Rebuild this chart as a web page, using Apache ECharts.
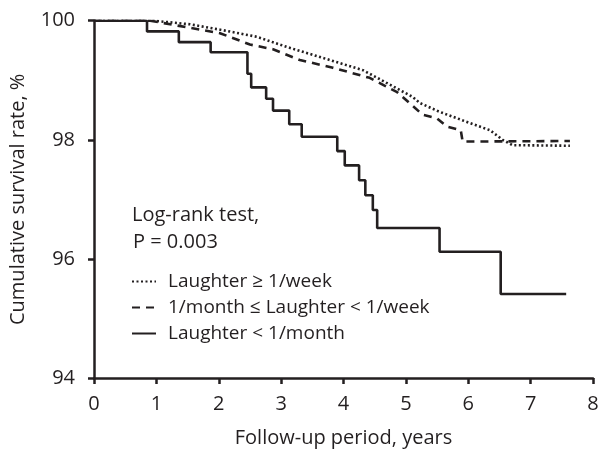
<!DOCTYPE html>
<html>
<head>
<meta charset="utf-8">
<script src="https://cdn.jsdelivr.net/npm/echarts@6/dist/echarts.min.js"></script>
<style>html,body{margin:0;padding:0;background:#fff}#c{width:609px;height:450px}</style>
</head>
<body>
<div id="c"></div>
<script>
// Data (time in years, cumulative survival %)
const xTicks = [0, 1, 2, 3, 4, 5, 6, 7, 8];
const yTicks = [94, 96, 98, 100];
const seriesNames = ['Laughter \u2265 1/week', '1/month \u2264 Laughter < 1/week', 'Laughter < 1/month'];

const weeklyTime  = [0, 0.95, 1.54, 2.07, 2.61, 3.09, 3.78, 4.31, 5.11, 5.22, 5.54, 6.03, 6.35, 6.55, 6.71, 7.63];
const weeklySurv  = [100, 100, 99.94, 99.84, 99.73, 99.56, 99.34, 99.17, 98.72, 98.62, 98.47, 98.28, 98.16, 98.00, 97.91, 97.90];

const monthlyTime = [0, 0.9, 2.02, 2.5, 2.87, 3.30, 3.83, 4.42, 4.86, 5.27, 5.50, 5.66, 5.88, 5.91, 7.63];
const monthlySurv = [100, 100, 99.79, 99.60, 99.52, 99.34, 99.21, 99.04, 98.80, 98.42, 98.36, 98.22, 98.16, 97.97, 97.98];

const rareTime = [0, 0.85, 1.36, 1.87, 2.46, 2.52, 2.76, 2.87, 3.13, 3.33, 3.90, 4.02, 4.25, 4.35, 4.47, 4.54, 5.54, 6.52, 7.57];
const rareSurv = [100, 99.82, 99.64, 99.47, 99.11, 98.88, 98.69, 98.49, 98.26, 98.05, 97.81, 97.57, 97.32, 97.07, 96.82, 96.52, 96.12, 95.41, 95.41];

const pair = (t, s) => t.map((v, i) => [v, s[i]]);
const INK = '#231f20';
const FONT = 'Open Sans';

const chart = echarts.init(document.getElementById('c'), null, {renderer: 'canvas'});
chart.setOption({
  animation: false,
  backgroundColor: '#fff',
  textStyle: {fontFamily: FONT, color: INK},
  grid: {left: 94, right: 16, top: 20.7, bottom: 72, containLabel: false, outerBoundsMode: 'none'},
  xAxis: {
    type: 'value', min: 0, max: 8, interval: 1,
    name: 'Follow-up period, years', nameLocation: 'middle', nameGap: 50,
    nameTextStyle: {fontFamily: FONT, fontSize: 20, color: INK},
    axisLine: {show: true, onZero: false, lineStyle: {color: INK, width: 2.5}},
    axisTick: {show: true, length: 6, lineStyle: {color: INK, width: 2.5}},
    axisLabel: {fontFamily: FONT, fontSize: 20, color: INK, margin: 16},
    splitLine: {show: false}
  },
  yAxis: {
    type: 'value', min: 94, max: 100, interval: 2,
    name: 'Cumulative survival rate, %', nameLocation: 'middle', nameGap: 66,
    nameTextStyle: {fontFamily: FONT, fontSize: 20, color: INK},
    axisLine: {show: true, onZero: false, lineStyle: {color: INK, width: 2.5}},
    axisTick: {show: true, length: 6, lineStyle: {color: INK, width: 2.5}},
    axisLabel: {fontFamily: FONT, fontSize: 20, color: INK, margin: 19},
    splitLine: {show: false}
  },
  legend: {
    orient: 'vertical', left: 126, top: 267,
    itemWidth: 24, itemHeight: 14, itemGap: 7,
    itemStyle: {color: 'transparent', borderWidth: 0, opacity: 0},
    textStyle: {fontFamily: FONT, fontSize: 19, color: INK, padding: [0, 0, 0, 7]},
    data: seriesNames
  },
  graphic: [
    {type: 'text', left: 132, top: 205, style: {text: 'Log-rank test,', font: '20px "Open Sans"', fill: INK}},
    {type: 'text', left: 133, top: 232, style: {text: 'P = 0.003', font: '20px "Open Sans"', fill: INK}}
  ],
  series: [
    {name: seriesNames[0], type: 'line', data: pair(weeklyTime, weeklySurv), showSymbol: false, symbol: 'none',
     lineStyle: {color: INK, width: 2.6, type: [2, 2.5]}, itemStyle: {color: INK}, z: 3},
    {name: seriesNames[1], type: 'line', data: pair(monthlyTime, monthlySurv), showSymbol: false, symbol: 'none',
     lineStyle: {color: INK, width: 2.6, type: [8, 6]}, itemStyle: {color: INK}, z: 2},
    {name: seriesNames[2], type: 'line', step: 'end', data: pair(rareTime, rareSurv), showSymbol: false, symbol: 'none',
     lineStyle: {color: INK, width: 2.6}, itemStyle: {color: INK}, z: 4}
  ]
});
</script>
</body>
</html>
